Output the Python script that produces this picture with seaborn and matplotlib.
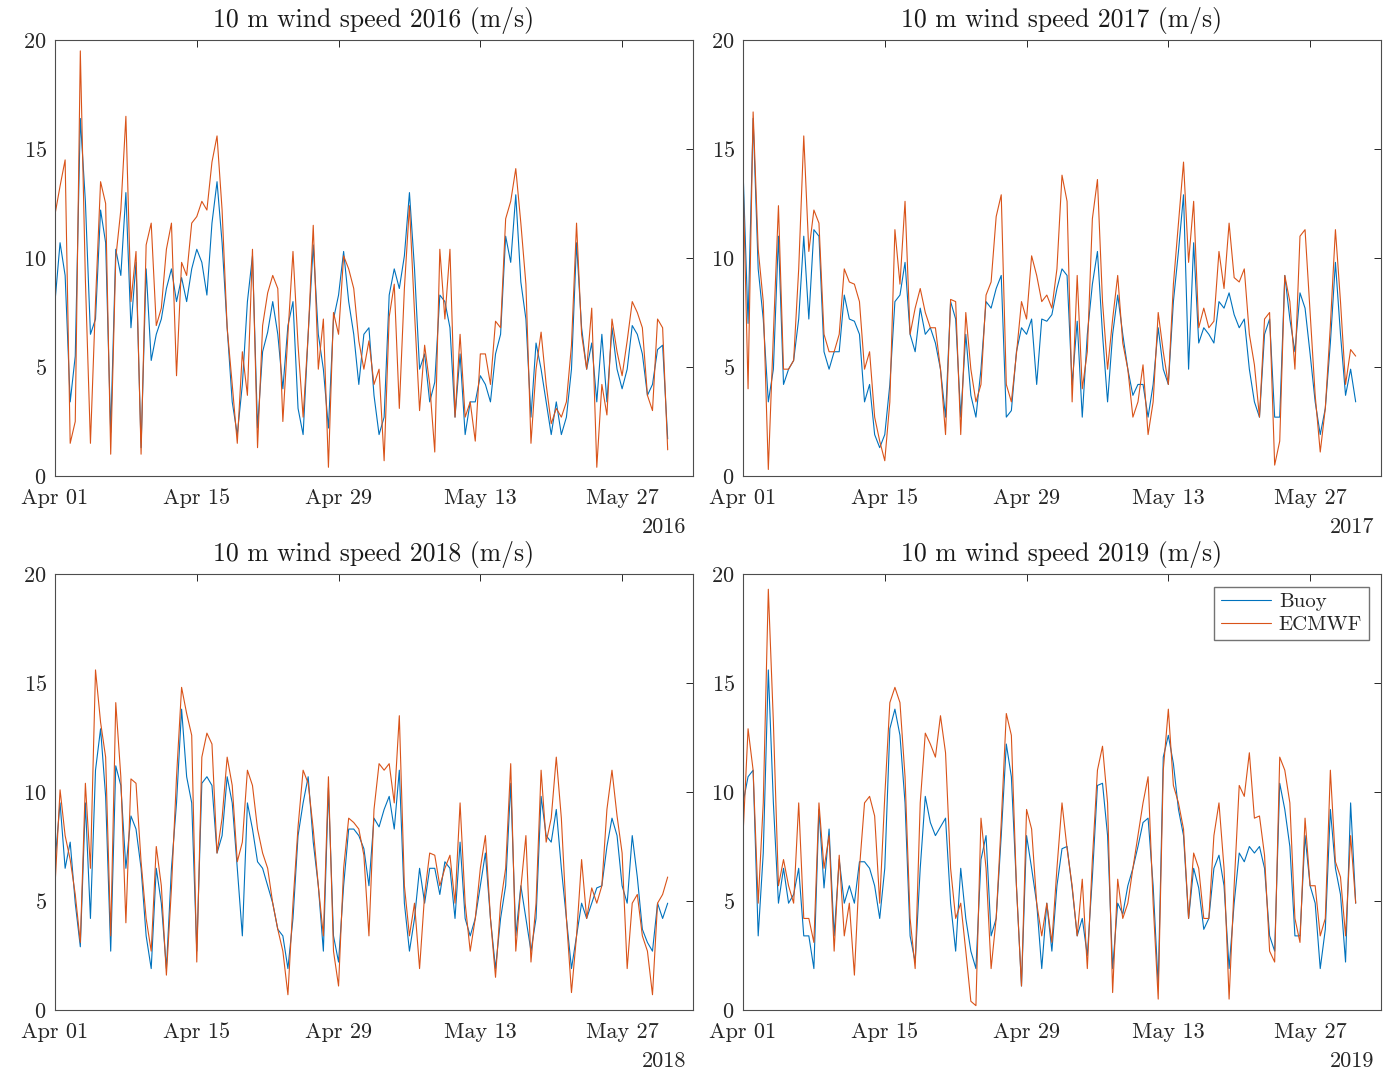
import numpy as np
import pandas as pd
import seaborn as sns
import matplotlib.pyplot as plt
import matplotlib.dates as mdates

# 10 m wind speed (m/s), read every 12 h from Apr 01 00:00
years = [2016, 2017, 2018, 2019]

buoy_2016 = [8.0, 10.7, 9.2, 3.4, 5.5, 16.4, 12.6, 6.5, 7.2, 12.2, 10.7, 2.0, 10.4, 9.2, 13.0, 6.8,
             9.8, 1.3, 9.5, 5.3, 6.5, 7.2, 8.6, 9.5, 8.0, 9.1, 8.0, 9.5, 10.4, 9.8, 8.3, 11.6,
             13.5, 10.7, 6.8, 3.4, 1.9, 4.2, 8.0, 10.1, 2.2, 5.7, 6.6, 8.0, 6.5, 4.0, 6.9, 8.0,
             3.1, 1.9, 6.5, 10.6, 6.5, 4.9, 2.2, 7.2, 8.3, 10.3, 8.0, 6.5, 4.2, 6.5, 6.8, 3.7,
             1.9, 2.7, 8.3, 9.5, 8.6, 10.1, 13.0, 9.5, 4.9, 5.6, 3.4, 4.3, 8.3, 8.0, 6.8, 2.7,
             5.6, 1.9, 3.4, 3.4, 4.6, 4.2, 3.4, 5.6, 6.5, 11.0, 9.8, 12.9, 8.9, 7.2, 2.7, 6.1,
             4.9, 3.4, 1.9, 3.4, 1.9, 2.7, 4.9, 10.7, 6.8, 4.9, 6.1, 3.4, 6.5, 3.4, 6.8, 4.9,
             4.0, 4.9, 6.9, 6.5, 5.6, 3.7, 4.2, 5.8, 6.0, 1.7]
ecmwf_2016 = [12.0, 13.3, 14.5, 1.5, 2.5, 19.5, 9.0, 1.5, 8.0, 13.5, 12.5, 1.0, 10.0, 12.2, 16.5, 8.0,
              10.3, 1.0, 10.6, 11.6, 6.9, 7.7, 10.4, 11.6, 4.6, 9.8, 9.2, 11.6, 11.9, 12.6, 12.2, 14.4,
              15.6, 12.2, 6.8, 4.2, 1.5, 5.7, 3.7, 10.4, 1.3, 6.9, 8.4, 9.2, 8.6, 2.5, 6.5, 10.3,
              6.0, 2.7, 6.5, 11.5, 4.9, 7.2, 0.4, 7.5, 6.5, 10.1, 9.5, 8.6, 6.2, 4.9, 6.2, 4.2,
              4.9, 0.7, 7.3, 8.8, 3.1, 8.6, 12.4, 7.5, 3.0, 6.0, 4.2, 1.1, 10.4, 7.2, 10.4, 2.7,
              6.5, 2.7, 3.4, 1.6, 5.6, 5.6, 4.2, 7.1, 6.8, 11.8, 12.6, 14.1, 11.6, 8.8, 1.5, 4.9,
              6.6, 4.2, 2.4, 3.1, 2.7, 3.4, 6.0, 11.6, 6.5, 4.9, 7.7, 0.4, 4.2, 2.8, 7.2, 5.7,
              4.6, 6.2, 8.0, 7.5, 6.8, 3.7, 3.0, 7.2, 6.8, 1.2]

buoy_2017 = [14.1, 7.0, 16.4, 9.5, 7.2, 3.4, 4.9, 11.0, 4.2, 4.9, 5.3, 7.2, 11.0, 7.2, 11.3, 11.0,
             5.7, 4.9, 5.7, 5.7, 8.3, 7.2, 7.1, 6.5, 3.4, 4.2, 1.9, 1.3, 1.9, 4.2, 8.0, 8.3,
             9.8, 6.5, 5.7, 7.7, 6.5, 6.8, 6.1, 4.9, 2.7, 8.0, 7.2, 2.7, 6.5, 3.7, 2.7, 4.9,
             8.0, 7.7, 8.6, 9.2, 2.7, 3.0, 5.7, 6.8, 6.5, 7.2, 4.2, 7.2, 7.1, 7.4, 8.6, 9.5,
             9.2, 4.2, 7.1, 2.7, 6.5, 8.8, 10.3, 6.5, 3.4, 6.5, 8.3, 6.5, 4.9, 3.7, 4.2, 4.2,
             2.7, 4.2, 6.8, 4.9, 4.2, 8.0, 10.3, 12.9, 4.9, 10.7, 6.1, 6.8, 6.5, 6.1, 8.0, 7.7,
             8.4, 7.4, 6.8, 7.2, 4.9, 3.4, 2.7, 6.5, 7.2, 2.7, 2.7, 9.2, 7.2, 5.7, 8.4, 7.7,
             5.6, 3.4, 1.9, 3.1, 6.1, 9.8, 6.5, 3.7, 4.9, 3.4]
ecmwf_2017 = [13.8, 4.0, 16.7, 10.4, 8.0, 0.3, 6.5, 12.4, 4.9, 4.9, 5.3, 9.5, 15.6, 10.3, 12.2, 11.6,
              6.5, 5.7, 5.7, 6.5, 9.5, 8.9, 8.8, 8.0, 4.9, 5.7, 2.7, 1.6, 0.7, 3.4, 11.3, 8.8,
              12.6, 6.5, 7.7, 8.6, 7.5, 6.8, 6.8, 4.9, 1.9, 8.1, 8.0, 1.9, 7.5, 4.9, 3.4, 4.2,
              8.3, 8.9, 11.9, 12.9, 4.2, 3.4, 5.6, 8.0, 7.2, 10.1, 9.2, 8.0, 8.3, 7.7, 9.5, 13.8,
              12.6, 3.4, 9.2, 4.0, 5.7, 11.8, 13.6, 8.0, 4.9, 7.2, 9.2, 6.1, 4.9, 2.7, 3.4, 5.1,
              1.9, 3.4, 7.5, 5.7, 4.2, 8.8, 11.6, 14.4, 9.8, 12.6, 6.8, 7.7, 6.8, 7.1, 10.3, 8.6,
              11.6, 9.1, 8.9, 9.5, 6.5, 5.1, 2.7, 7.2, 7.5, 0.5, 1.6, 9.2, 8.0, 4.9, 11.0, 11.3,
              7.5, 3.7, 1.1, 3.1, 6.9, 11.3, 8.0, 4.2, 5.8, 5.5]

buoy_2018 = [6.8, 9.5, 6.5, 7.7, 4.9, 2.9, 9.5, 4.2, 11.0, 12.9, 9.8, 2.7, 11.2, 10.3, 6.5, 8.9,
             8.3, 6.5, 3.4, 1.9, 6.5, 4.9, 1.9, 6.5, 9.5, 13.8, 10.7, 9.5, 2.7, 10.4, 10.7, 10.3,
             7.2, 8.0, 10.7, 9.5, 6.5, 3.4, 9.5, 8.3, 6.8, 6.5, 5.7, 4.9, 3.7, 3.4, 1.9, 4.2,
             8.0, 9.5, 10.7, 7.7, 5.7, 2.7, 10.2, 3.4, 2.2, 5.7, 8.3, 8.3, 8.0, 7.4, 5.7, 8.8,
             8.4, 9.2, 9.8, 8.3, 11.0, 4.9, 2.7, 4.2, 6.5, 4.9, 6.5, 6.5, 5.3, 6.8, 6.5, 4.2,
             7.7, 4.2, 3.4, 4.2, 5.7, 7.2, 4.2, 1.9, 4.2, 5.7, 10.4, 3.4, 5.7, 4.2, 2.7, 4.2,
             9.8, 8.0, 7.7, 9.2, 6.5, 4.2, 1.9, 3.4, 4.9, 4.2, 4.9, 5.6, 5.7, 7.5, 8.8, 8.0,
             5.7, 4.9, 8.0, 6.1, 3.7, 3.1, 2.7, 4.9, 4.2, 4.9]
ecmwf_2018 = [5.7, 10.1, 8.0, 6.9, 5.3, 3.1, 10.4, 6.5, 15.6, 13.2, 11.6, 3.4, 14.1, 10.7, 4.0, 10.6,
              10.4, 6.8, 4.2, 2.7, 7.5, 5.7, 1.6, 5.6, 10.7, 14.8, 13.6, 12.6, 2.2, 11.6, 12.7, 12.2,
              7.2, 8.8, 11.6, 10.3, 6.8, 7.7, 11.0, 10.3, 8.3, 7.2, 6.5, 4.9, 3.7, 2.7, 0.7, 4.9,
              8.4, 11.0, 10.4, 8.3, 5.7, 3.4, 10.7, 2.7, 1.1, 6.5, 8.8, 8.6, 8.3, 7.1, 3.4, 9.2,
              11.3, 11.0, 11.3, 9.5, 13.5, 5.7, 3.4, 4.9, 1.9, 5.3, 7.2, 7.1, 5.7, 6.5, 7.1, 4.9,
              9.5, 4.9, 2.7, 4.2, 6.5, 8.0, 4.2, 1.5, 4.9, 6.5, 11.3, 2.7, 5.6, 8.0, 2.2, 4.9,
              11.0, 7.7, 8.8, 11.6, 8.8, 4.2, 0.8, 3.4, 6.9, 4.2, 5.6, 4.9, 5.7, 9.2, 11.0, 8.9,
              7.2, 1.9, 4.9, 5.3, 3.4, 2.7, 0.7, 4.9, 5.3, 6.1]

buoy_2019 = [9.5, 10.7, 11.0, 3.4, 7.2, 15.6, 9.5, 4.9, 6.5, 4.9, 5.3, 6.5, 3.4, 3.4, 1.9, 9.2,
             5.6, 8.3, 3.4, 6.9, 4.9, 5.7, 4.9, 6.8, 6.8, 6.5, 5.7, 4.2, 6.5, 12.9, 13.8, 12.6,
             9.5, 3.4, 2.2, 6.5, 9.8, 8.6, 8.0, 8.4, 8.8, 4.9, 2.7, 6.5, 4.2, 2.7, 1.9, 6.9,
             8.0, 3.4, 4.2, 8.0, 12.2, 10.7, 5.7, 1.1, 8.0, 6.5, 4.9, 1.9, 4.9, 2.7, 5.7, 7.4,
             7.5, 5.6, 3.4, 4.2, 2.5, 6.1, 10.3, 10.4, 8.0, 1.9, 4.9, 4.4, 5.7, 6.5, 7.5, 8.6,
             8.8, 5.7, 1.1, 11.6, 12.6, 11.3, 9.2, 8.0, 4.2, 6.5, 5.6, 3.7, 4.2, 6.5, 7.1, 5.7,
             1.9, 4.9, 7.2, 6.8, 7.5, 7.2, 7.5, 6.5, 3.4, 2.7, 10.4, 9.2, 7.5, 3.4, 3.4, 8.0,
             5.7, 4.9, 1.9, 3.7, 9.2, 6.5, 5.3, 2.2, 9.5, 4.9]
ecmwf_2019 = [8.0, 12.9, 11.0, 4.9, 9.5, 19.3, 13.2, 5.7, 6.9, 5.7, 4.9, 9.5, 4.2, 4.2, 3.1, 9.5,
              6.5, 8.0, 2.7, 7.1, 3.4, 4.9, 1.6, 6.5, 9.5, 9.8, 8.9, 4.9, 9.8, 14.1, 14.8, 14.1,
              10.7, 4.2, 1.9, 9.5, 12.7, 12.2, 11.6, 13.5, 11.8, 6.5, 4.2, 4.9, 2.7, 0.4, 0.2, 8.8,
              6.5, 1.9, 4.2, 8.6, 13.6, 12.6, 5.7, 1.1, 9.2, 8.3, 4.9, 3.4, 4.9, 3.1, 6.5, 9.5,
              7.4, 5.7, 3.4, 6.0, 1.9, 6.9, 11.0, 12.1, 9.5, 0.8, 6.0, 4.2, 4.9, 6.5, 8.0, 9.5,
              10.7, 4.9, 0.5, 11.0, 13.8, 10.3, 9.5, 8.3, 4.2, 7.2, 6.5, 4.2, 4.2, 8.0, 9.5, 6.5,
              0.5, 5.7, 10.3, 9.8, 11.8, 8.8, 8.9, 7.1, 2.7, 2.2, 11.6, 11.0, 9.5, 4.2, 3.1, 8.8,
              5.7, 5.7, 3.4, 4.2, 11.0, 6.8, 6.1, 3.4, 8.0, 4.9]

buoy = {2016: buoy_2016, 2017: buoy_2017, 2018: buoy_2018, 2019: buoy_2019}
ecmwf = {2016: ecmwf_2016, 2017: ecmwf_2017, 2018: ecmwf_2018, 2019: ecmwf_2019}
sources = ['Buoy', 'ECMWF']
tick_days = [0, 14, 28, 42, 56]

sns.set_style('white')
plt.rcParams['font.family'] = ['cmr10', 'DejaVu Serif']
plt.rcParams['mathtext.fontset'] = 'cm'
plt.rcParams['axes.unicode_minus'] = False
plt.rcParams['axes.formatter.use_mathtext'] = True

fig = plt.figure(figsize=(13.96, 10.73), dpi=100)
W, H = 1396, 1073
boxes = {2016: (55, 40), 2017: (743, 40), 2018: (55, 574), 2019: (743, 574)}

for yr in years:
    left, top = boxes[yr]
    ax = fig.add_axes([left / W, 1 - (top + 436) / H, 638 / W, 436 / H])
    n = len(buoy[yr])
    t = pd.date_range(f'{yr}-04-01', periods=n, freq='12h')
    df = pd.DataFrame({'time': list(t) * 2,
                       'speed': buoy[yr] + ecmwf[yr],
                       'source': ['Buoy'] * n + ['ECMWF'] * n})
    sns.lineplot(data=df, x='time', y='speed', hue='source', hue_order=sources,
                 palette=['#0072BD', '#D95319'], linewidth=0.8, errorbar=None,
                 legend=(yr == 2019), ax=ax)

    start = pd.Timestamp(f'{yr}-04-01')
    ax.set_xlim(start, start + pd.Timedelta(days=63))
    ax.set_xticks([start + pd.Timedelta(days=d) for d in tick_days])
    ax.xaxis.set_major_formatter(mdates.DateFormatter('%b %d'))
    ax.set_ylim(0, 20)
    ax.set_yticks([0, 5, 10, 15, 20])
    ax.set_xlabel('')
    ax.set_ylabel('')
    ax.tick_params(direction='in', top=True, right=True, length=5, width=0.7,
                   colors='0.15', labelsize=16, pad=9)
    ax.tick_params(axis='y', pad=6)
    for s in ax.spines.values():
        s.set_color('0.3')
        s.set_linewidth(0.8)
    ax.set_title(f'10 m wind speed {yr} (m/s)', fontsize=18.5, pad=9, color='0.1')
    ax.text(0.989, -0.117, str(yr), transform=ax.transAxes, ha='right', va='center',
            fontsize=16, color='0.15')

    if yr == 2019:
        h, l = ax.get_legend_handles_labels()
        ax.legend(h, l, loc='upper right', fontsize=15, frameon=True, fancybox=False,
                  edgecolor='0.45', framealpha=1, borderaxespad=0.6, handlelength=2.4,
                  borderpad=0.3, labelspacing=0.2, handletextpad=0.4)

fig.savefig('out.png', dpi=100)
